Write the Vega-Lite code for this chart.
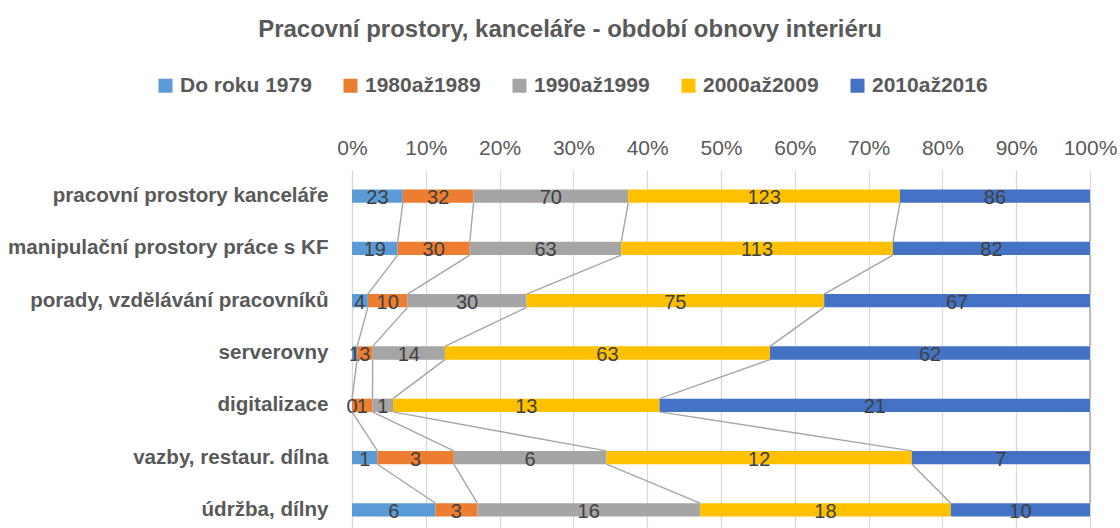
{
  "$schema": "https://vega.github.io/schema/vega-lite/v6.json",
  "width": 738,
  "height": 358,
  "autosize": {"type": "none"},
  "padding": {"left": 352, "top": 170, "right": 30, "bottom": 0},
  "background": "white",
  "config": {"view": {"stroke": null}, "font": "Liberation Sans"},
  "title": {
    "text": "Pracovní prostory, kanceláře - období obnovy interiéru",
    "fontSize": 24,
    "fontWeight": "bold",
    "color": "#595959",
    "anchor": "middle",
    "dx": -151,
    "offset": 33,
    "font": "Liberation Sans"
  },
  "data": {
    "values": [
      {"cat": "pracovní prostory kanceláře", "ci": 0, "series": "Do roku 1979", "si": 0, "value": 23},
      {"cat": "pracovní prostory kanceláře", "ci": 0, "series": "1980až1989", "si": 1, "value": 32},
      {"cat": "pracovní prostory kanceláře", "ci": 0, "series": "1990až1999", "si": 2, "value": 70},
      {"cat": "pracovní prostory kanceláře", "ci": 0, "series": "2000až2009", "si": 3, "value": 123},
      {"cat": "pracovní prostory kanceláře", "ci": 0, "series": "2010až2016", "si": 4, "value": 86},
      {"cat": "manipulační prostory práce s KF", "ci": 1, "series": "Do roku 1979", "si": 0, "value": 19},
      {"cat": "manipulační prostory práce s KF", "ci": 1, "series": "1980až1989", "si": 1, "value": 30},
      {"cat": "manipulační prostory práce s KF", "ci": 1, "series": "1990až1999", "si": 2, "value": 63},
      {"cat": "manipulační prostory práce s KF", "ci": 1, "series": "2000až2009", "si": 3, "value": 113},
      {"cat": "manipulační prostory práce s KF", "ci": 1, "series": "2010až2016", "si": 4, "value": 82},
      {"cat": "porady, vzdělávání pracovníků", "ci": 2, "series": "Do roku 1979", "si": 0, "value": 4},
      {"cat": "porady, vzdělávání pracovníků", "ci": 2, "series": "1980až1989", "si": 1, "value": 10},
      {"cat": "porady, vzdělávání pracovníků", "ci": 2, "series": "1990až1999", "si": 2, "value": 30},
      {"cat": "porady, vzdělávání pracovníků", "ci": 2, "series": "2000až2009", "si": 3, "value": 75},
      {"cat": "porady, vzdělávání pracovníků", "ci": 2, "series": "2010až2016", "si": 4, "value": 67},
      {"cat": "serverovny", "ci": 3, "series": "Do roku 1979", "si": 0, "value": 1},
      {"cat": "serverovny", "ci": 3, "series": "1980až1989", "si": 1, "value": 3},
      {"cat": "serverovny", "ci": 3, "series": "1990až1999", "si": 2, "value": 14},
      {"cat": "serverovny", "ci": 3, "series": "2000až2009", "si": 3, "value": 63},
      {"cat": "serverovny", "ci": 3, "series": "2010až2016", "si": 4, "value": 62},
      {"cat": "digitalizace", "ci": 4, "series": "Do roku 1979", "si": 0, "value": 0},
      {"cat": "digitalizace", "ci": 4, "series": "1980až1989", "si": 1, "value": 1},
      {"cat": "digitalizace", "ci": 4, "series": "1990až1999", "si": 2, "value": 1},
      {"cat": "digitalizace", "ci": 4, "series": "2000až2009", "si": 3, "value": 13},
      {"cat": "digitalizace", "ci": 4, "series": "2010až2016", "si": 4, "value": 21},
      {"cat": "vazby, restaur. dílna", "ci": 5, "series": "Do roku 1979", "si": 0, "value": 1},
      {"cat": "vazby, restaur. dílna", "ci": 5, "series": "1980až1989", "si": 1, "value": 3},
      {"cat": "vazby, restaur. dílna", "ci": 5, "series": "1990až1999", "si": 2, "value": 6},
      {"cat": "vazby, restaur. dílna", "ci": 5, "series": "2000až2009", "si": 3, "value": 12},
      {"cat": "vazby, restaur. dílna", "ci": 5, "series": "2010až2016", "si": 4, "value": 7},
      {"cat": "údržba, dílny", "ci": 6, "series": "Do roku 1979", "si": 0, "value": 6},
      {"cat": "údržba, dílny", "ci": 6, "series": "1980až1989", "si": 1, "value": 3},
      {"cat": "údržba, dílny", "ci": 6, "series": "1990až1999", "si": 2, "value": 16},
      {"cat": "údržba, dílny", "ci": 6, "series": "2000až2009", "si": 3, "value": 18},
      {"cat": "údržba, dílny", "ci": 6, "series": "2010až2016", "si": 4, "value": 10}
    ]
  },
  "transform": [
    {"stack": "value", "groupby": ["cat"], "sort": [{"field": "si", "order": "ascending"}], "offset": "normalize", "as": ["x0", "x1"]},
    {"calculate": "(datum.x0 + datum.x1) / 2", "as": "xm"}
  ],
  "layer": [
    {
      "mark": {"type": "bar"},
      "encoding": {
        "y": {
          "field": "cat",
          "type": "nominal",
          "sort": null,
          "scale": {
            "domain": ["pracovní prostory kanceláře", "manipulační prostory práce s KF", "porady, vzdělávání pracovníků", "serverovny", "digitalizace", "vazby, restaur. dílna", "údržba, dílny"],
            "range": [0, 366],
            "paddingInner": 0.746,
            "paddingOuter": 0.373
          },
          "axis": {
            "title": null,
            "domain": false,
            "ticks": false,
            "grid": false,
            "labelPadding": 24,
            "labelFontSize": 20.6,
            "labelFontWeight": "bold",
            "labelColor": "#595959",
            "labelLimit": 400
          }
        },
        "x": {
          "field": "x0",
          "type": "quantitative",
          "scale": {"domain": [0, 1]},
          "axis": {
            "orient": "top",
            "title": null,
            "format": "%",
            "values": [0, 0.1, 0.2, 0.3, 0.4, 0.5, 0.6, 0.7, 0.8, 0.9, 1],
            "grid": true,
            "gridColor": "#D9D9D9",
            "gridWidth": 1.3,
            "domain": false,
            "ticks": false,
            "labelFlush": false,
            "labelOverlap": false,
            "labelFontSize": 21,
            "labelColor": "#595959",
            "labelPadding": 12
          }
        },
        "x2": {"field": "x1"},
        "color": {
          "field": "series",
          "type": "nominal",
          "scale": {
            "domain": ["Do roku 1979", "1980až1989", "1990až1999", "2000až2009", "2010až2016"],
            "range": ["#5B9BD5", "#ED7D31", "#A5A5A5", "#FFC000", "#4472C4"]
          },
          "legend": {
            "orient": "none",
            "legendX": -197,
            "legendY": -95,
            "direction": "horizontal",
            "title": null,
            "padding": 0,
            "symbolType": "square",
            "symbolSize": 196,
            "symbolStrokeWidth": 0,
            "labelFontSize": 21,
            "labelFontWeight": "bold",
            "labelColor": "#595959",
            "labelOffset": 4,
            "columnPadding": 28,
            "labelLimit": 300
          }
        }
      }
    },
    {
      "mark": {"type": "text", "fontSize": 20, "color": "#404040", "baseline": "middle", "dy": 2},
      "encoding": {
        "y": {"field": "cat", "type": "nominal", "sort": null},
        "x": {"field": "xm", "type": "quantitative"},
        "text": {"field": "value", "type": "quantitative"}
      }
    },
    {
      "transform": [
        {"window": [{"op": "lead", "field": "x1", "as": "nx1"}, {"op": "lead", "field": "cat", "as": "ncat"}], "groupby": ["series"], "sort": [{"field": "ci", "order": "ascending"}]},
        {"filter": "datum.ncat != null"}
      ],
      "mark": {"type": "rule", "color": "#A5A5A5", "strokeWidth": 1.4},
      "encoding": {
        "y": {"field": "cat", "type": "nominal", "sort": null, "bandPosition": 1},
        "y2": {"field": "ncat", "bandPosition": 0},
        "x": {"field": "x1", "type": "quantitative"},
        "x2": {"field": "nx1"}
      }
    }
  ]
}
